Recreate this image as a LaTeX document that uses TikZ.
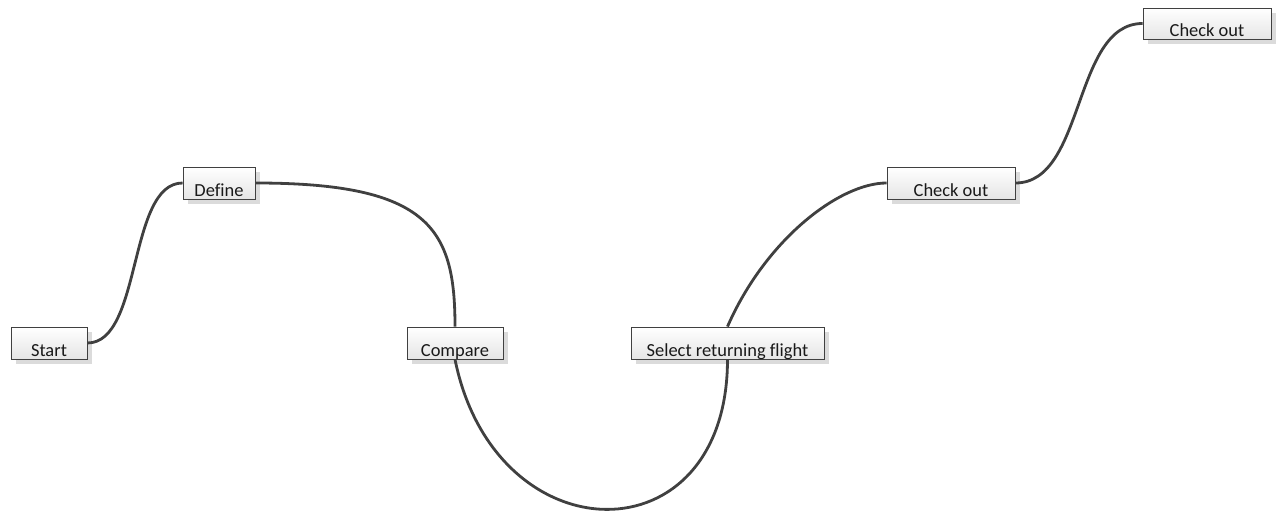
\documentclass[tikz,border=0pt]{standalone}
\usepackage{fontspec}
\setmainfont[Ligatures=NoCommon]{Carlito}
\usetikzlibrary{shadows}
\definecolor{linec}{HTML}{404040}
\tikzset{
  box/.style={draw=linec, line width=0.8bp, top color=white, bottom color=black!10,
    general shadow={fill=black!14, shadow xshift=5bp, shadow yshift=-5bp},
    inner xsep=0pt, inner ysep=0pt, minimum height=32bp, text height=29.5bp, text depth=2.5bp,
    font=\fontsize{18.5}{20}\selectfont, text=black!90},
  conn/.style={draw=linec, line width=2.8bp}
}
\begin{document}
\begin{tikzpicture}[x=1bp,y=-1bp]
\useasboundingbox (0,0) rectangle (1279,523);
\node[box, minimum width=76bp] (start) at (49,343) {Start};
\node[box, minimum width=72bp] (define) at (219,183) {Define};
\node[box, minimum width=96bp] (compare) at (455,343) {Compare};
\node[box, minimum width=193bp] (select) at (727.5,343) {Select returning flight};
\node[box, minimum width=128bp] (check1) at (951,183) {Check out};
\node[box, minimum width=128bp, minimum height=31bp, text height=28.5bp] (check2) at (1207,23.5) {Check out};
\draw[conn] (start.east) .. controls +(55,0) and +(-55,0) .. (define.west);
\draw[conn] (define.east) .. controls +(175,0) and +(0,-97) .. (compare.north);
\draw[conn] (compare.south) .. controls +(40,198) and +(0,202) .. (select.south);
\draw[conn] (select.north) .. controls +(38,-87) and +(-47,0) .. (check1.west);
\draw[conn] (check1.east) .. controls +(70,0) and +(-70,0) .. (check2.west);
\end{tikzpicture}
\end{document}
